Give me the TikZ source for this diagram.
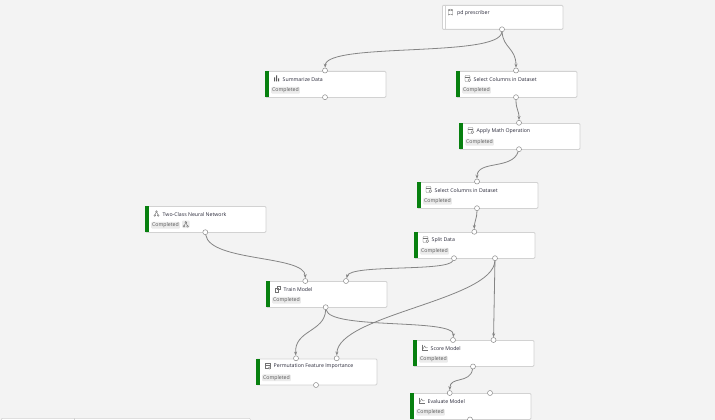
\documentclass[tikz,border=0pt]{standalone}
\usepackage{fontspec}
\setmainfont{Open Sans}
\usetikzlibrary{arrows.meta}
\definecolor{bgc}{HTML}{F3F3F3}
\definecolor{edgec}{HTML}{D2D2D2}
\definecolor{barc}{HTML}{07800F}
\definecolor{linkc}{HTML}{858585}
\definecolor{tagc}{HTML}{EBEBEB}
\definecolor{txtc}{HTML}{2A2A3A}
\tikzset{
  x=1pt,y=-1pt,
  modbox/.style={draw=edgec,line width=0.8pt,fill=white,rounded corners=1pt,minimum width=120.5pt,minimum height=26pt,inner sep=0pt,anchor=north west},
  bar/.style={fill=barc,draw=none,minimum width=3.4pt,minimum height=26pt,inner sep=0pt,anchor=north west},
  title/.style={font=\fontsize{5.2}{6}\selectfont,text=txtc,anchor=west,inner sep=0pt},
  tag/.style={font=\fontsize{5.2}{6}\selectfont,text=black!65,fill=tagc,rounded corners=1pt,inner xsep=1pt,inner ysep=0.8pt,anchor=west},
  port/.style={circle,draw=black!45,fill=white,line width=0.5pt,minimum size=5pt,inner sep=0pt},
  link/.style={draw=linkc,line width=0.8pt,-{Stealth[length=4pt,width=3pt]}},
  icon/.style={draw=black!55,line width=0.4pt},
}
% #1 name, #2 left, #3 top, #4 title, #5 icon kind
\newcommand{\modul}[5]{%
  \node[modbox] (#1) at (#2,#3) {};
  \node[bar] (#1bar) at (#2,#3) {};
  \node[title] (#1t) at (#2+17.5,#3+8.2) {#4};
  \node[tag] (#1s) at (#2+6,#3+19.3) {Completed};
  \begin{scope}[shift={(#2+9,#3+4.5)}]#5\end{scope}
}
\newcommand{\icoSel}{\draw[icon,rounded corners=0.8pt] (0,0) rectangle (5,6); \draw[icon] (0,1.8)--(5,1.8); \draw[icon,fill=white] (4.4,4.6) circle (1.4);}
\newcommand{\icoBar}{\fill[black!65] (0,2) rectangle (1.2,6) (2,0) rectangle (3.2,6) (4,3) rectangle (5.2,6);}
\newcommand{\icoNet}{\draw[icon] (2.5,1)--(0.7,5) (2.5,1)--(4.3,5); \draw[icon,fill=white] (2.5,1) circle (0.9) (0.7,5) circle (0.9) (4.3,5) circle (0.9);}
\newcommand{\icoChart}{\draw[icon] (0,0)--(0,6)--(6,6); \draw[icon] (1,4.5)--(2.5,1.5)--(4,3.5)--(5.5,3);}
\newcommand{\icoTrain}{\draw[icon] (0,3) rectangle (3.5,6.5); \draw[icon] (2,0.5) rectangle (5.5,4);}
\newcommand{\icoPerm}{\draw[icon] (0,0) rectangle (5.5,5); \draw[icon] (0,2)--(5.5,2); \draw[icon,fill=white] (4.5,5) circle (1.2);}
\begin{document}
\begin{tikzpicture}
\useasboundingbox (0,0) rectangle (715,420);
\fill[bgc] (0,0) rectangle (715,420);
% bottom panel
\node[draw=edgec,line width=0.6pt,fill=white,rounded corners=1pt,minimum width=249pt,minimum height=6pt,inner sep=0pt,anchor=north west] (panel) at (1,418) {};
\coordinate (pa) at (74,418); \coordinate (pb) at (74,420);
\draw[edgec,line width=0.5pt] (pa)--(pb);
% modules
\node[modbox,minimum height=24pt] (pd) at (442,5) {};
\coordinate (pda) at (445.5,5); \coordinate (pdb) at (445.5,29);
\draw[edgec,line width=0.5pt] (pda)--(pdb);
\node[title] (pdt) at (457,13) {pd prescriber};
\draw[icon] (448.5,10) -- (448.5,15) arc (180:360:2 and 0.8) -- (452.5,10);
\draw[icon] (450.5,10) ellipse (2 and 0.8);
\modul{summ}{265}{71}{Summarize Data}{\icoBar}
\modul{selA}{456}{71}{Select Columns in Dataset}{\icoSel}
\modul{math}{459}{123}{Apply Math Operation}{\icoSel}
\modul{selB}{417}{182}{Select Columns in Dataset}{\icoSel}
\modul{split}{414}{232}{Split Data}{\icoSel}
\modul{net}{145}{206}{Two-Class Neural Network}{\icoNet}
\modul{train}{266}{281}{Train Model}{\icoTrain}
\modul{perm}{256}{358.5}{Permutation Feature Importance}{\icoPerm}
\modul{score}{413}{340}{Score Model}{\icoChart}
\modul{eval}{410}{393}{Evaluate Model}{\icoChart}
\fill[tagc,rounded corners=1pt] (182,220.5) rectangle (189.5,228);
\begin{scope}[shift={(183.3,221.3)}]\icoNet\end{scope}
% ports
\foreach \n/\x/\y in {pdO/502/29.3,summI/325/70.5,summO/325/97.2,selAI/516/70.5,selAO/516/97.2,mathI/519/122.8,mathO/519/149.2,selBI/477/181.5,selBO/477/208.2,splitI/474.3/231.8,splitL/454/258.2,splitR/495/258.2,netO/205.3/232.2,trainA/305.3/281,trainB/346/281,trainO/325.7/307.2,permA/296/358.3,permB/336.7/358.3,permO/316/385,scoreA/453/340,scoreB/493.5/340,scoreO/473/366.5,evalA/449.7/393,evalB/490/393,evalO/470/419.5}
  {\node[port] (\n) at (\x,\y) {};}
% connectors
\draw[link] (pdO) .. controls (500,58) and (326,42) .. (summI);
\draw[link] (pdO) .. controls (503,48) and (516,48) .. (selAI);
\draw[link] (selAO) .. controls (516,110) and (519,110) .. (mathI);
\draw[link] (mathO) .. controls (512,170) and (477,160) .. (selBI);
\draw[link] (selBO) .. controls (477,218) and (474.3,222) .. (splitI);
\draw[link] (netO) .. controls (210,262) and (305,255) .. (trainA);
\draw[link] (splitL) .. controls (448,272) and (350,264) .. (trainB);
\draw[link] (splitR) .. controls (493,300) and (338,315) .. (permB);
\draw[link] (splitR) -- (scoreB);
\draw[link] (trainO) .. controls (325,332) and (294,330) .. (permA);
\draw[link] (trainO) .. controls (330,330) and (455,318) .. (scoreA);
\draw[link] (scoreO) .. controls (470,384) and (450,376) .. (evalA);
\end{tikzpicture}
\end{document}
